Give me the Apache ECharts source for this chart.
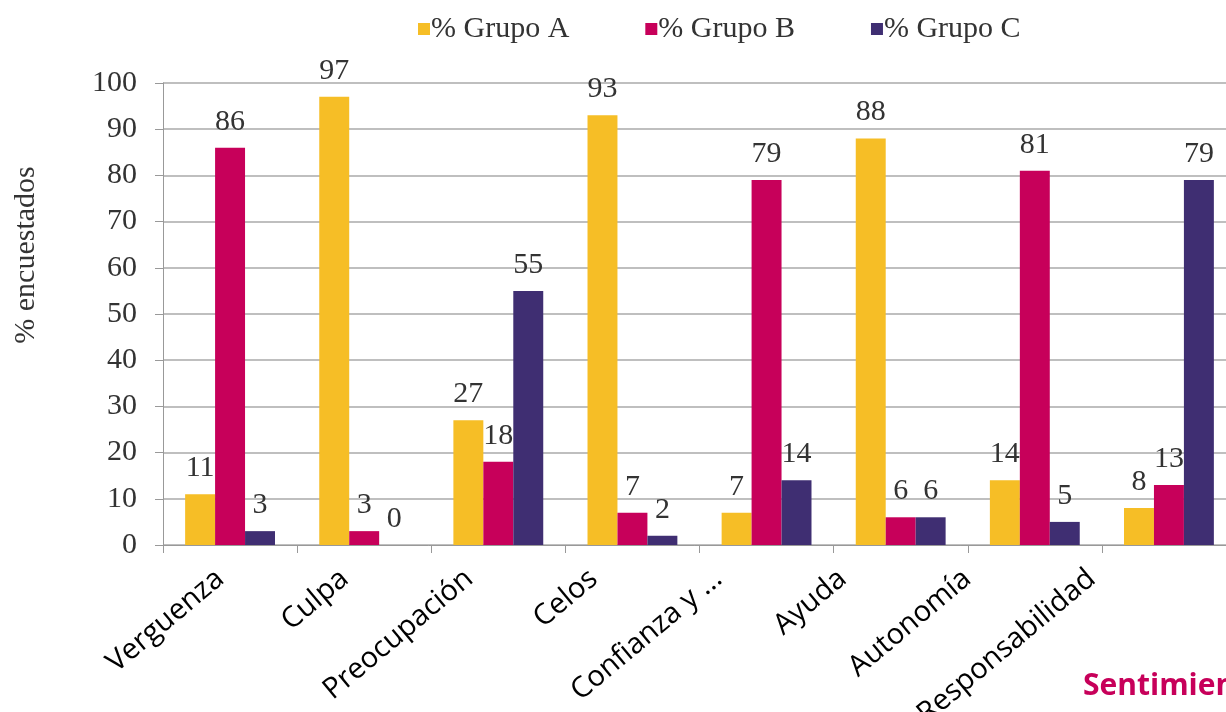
<!DOCTYPE html>
<html>
<head>
<meta charset="utf-8">
<script src="https://cdn.jsdelivr.net/npm/echarts@6/dist/echarts.min.js"></script>
<style>
html,body{margin:0;padding:0;background:#fff;}
#chart{width:1226px;height:712px;}
</style>
</head>
<body>
<div id="chart"></div>
<script>
const categories = ["Verguenza", "Culpa", "Preocupación", "Celos", "Confianza y ...", "Ayuda", "Autonomía", "Responsabilidad"];
const grupoA = [11, 97, 27, 93, 7, 88, 14, 8];
const grupoB = [86, 3, 18, 7, 79, 6, 81, 13];
const grupoC = [3, 0, 55, 2, 14, 6, 5, 79];
const seriesNames = ["% Grupo A", "% Grupo B", "% Grupo C"];
const yTicks = [0, 10, 20, 30, 40, 50, 60, 70, 80, 90, 100];

const colors = ["#F6BE26", "#C7005A", "#3F2E72"];
const serif = "'Liberation Serif', 'DejaVu Serif', serif";
const sans = "'Open Sans', 'Noto Sans', sans-serif";

const chart = echarts.init(document.getElementById('chart'));
const valueLabel = {
  show: true, position: 'top', distance: 11,
  fontFamily: serif, fontSize: 30, color: '#333'
};
function mk(name, data, color) {
  return {
    name: name, type: 'bar', data: data, barGap: '0%', barCategoryGap: '33%',
    xAxisIndex: 0, yAxisIndex: 0,
    itemStyle: {color: color}, label: valueLabel
  };
}
chart.setOption({
  animation: false,
  color: colors,
  legend: {
    top: 9, left: 413, itemWidth: 12, itemHeight: 12, itemGap: 76,
    icon: 'rect',
    textStyle: {fontFamily: serif, fontSize: 30, color: '#333', padding: [0, 0, 0, -4]},
    data: seriesNames
  },
  grid: [
    {left: 163, right: -10, top: 83, bottom: 167, containLabel: false, outerBoundsMode: 'none'},
    {left: 158, right: 72, top: 83, bottom: 167, containLabel: false, outerBoundsMode: 'none'}
  ],
  xAxis: [{
    type: 'category', data: categories, gridIndex: 0,
    axisLine: {lineStyle: {color: '#999'}},
    axisTick: {show: true, length: 8, lineStyle: {color: '#999'}},
    axisLabel: {show: false}
  }, {
    type: 'category', data: categories, gridIndex: 1,
    axisLine: {show: false}, axisTick: {show: false}, splitLine: {show: false},
    axisLabel: {rotate: 40, interval: 0, margin: 30, fontFamily: sans, fontSize: 29, color: '#000'}
  }],
  yAxis: [{
    type: 'value', min: 0, max: 100, interval: 10, gridIndex: 0,
    axisLine: {show: true, lineStyle: {color: '#999'}},
    axisTick: {show: true, length: 8, lineStyle: {color: '#999'}},
    axisLabel: {margin: 26, fontFamily: serif, fontSize: 30, color: '#333',
      formatter: v => yTicks.includes(v) ? String(v) : ''},
    splitLine: {lineStyle: {color: '#aaa', width: 1.5}}
  }, {
    type: 'value', min: 0, max: 100, gridIndex: 1, show: false
  }],
  graphic: [
    {type: 'text', x: 26, y: 255, rotation: Math.PI / 2,
      style: {text: '% encuestados', fontFamily: serif, fontSize: 30, fill: '#333',
        align: 'center', verticalAlign: 'middle'}},
    {type: 'text', x: 1083, y: 686,
      style: {text: 'Sentimientos', fontFamily: sans, fontWeight: 'bold', fontSize: 30, fill: '#C7005A',
        verticalAlign: 'middle'}}
  ],
  series: [mk(seriesNames[0], grupoA, colors[0]), mk(seriesNames[1], grupoB, colors[1]), mk(seriesNames[2], grupoC, colors[2])]
});
</script>
</body>
</html>
